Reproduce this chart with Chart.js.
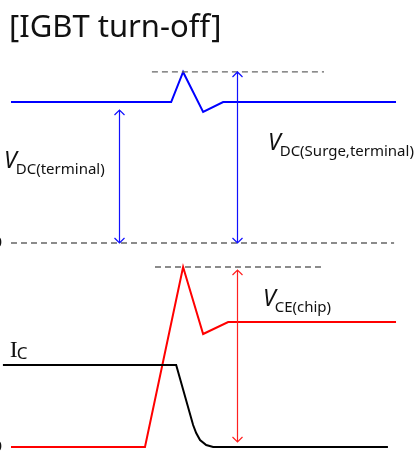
<!DOCTYPE html>
<html>
<head>
<meta charset="utf-8">
<script src="https://cdn.jsdelivr.net/npm/chart.js@4/dist/chart.umd.min.js"></script>
<style>
  html, body { margin: 0; padding: 0; background: #fff; }
  #wrap { position: relative; width: 417px; height: 459px; }
</style>
</head>
<body>
<div id="wrap"><canvas id="c"></canvas></div>
<script>
// ---- data (time in arbitrary units, voltages/current normalised) ----
const titleText = '[IGBT turn-off]';

const vdcTime   = [0, 41.6, 44.7, 49.9, 55.1, 100];
const vdcValues = [1, 1, 1.213, 0.929, 1, 1];

const vceTime   = [0, 34.8, 44.7, 49.9, 56.4, 100];
const vceValues = [0, 0, 1.44, 0.904, 1, 1];

const icTime    = [-2.1, 42.9, 47.3, 48.1, 49.1, 50.7, 52.5, 97.9];
const icValues  = [0.656, 0.656, 0.176, 0.112, 0.056, 0.016, 0, 0];

const surgeRefTime  = [36.6, 81.3];
const surgeRefLevel = 1.213;
const zeroRefTime   = [0, 99.5];
const chipRefTime   = [37.4, 81.0];
const chipRefLevel  = 1.44;

const arrowTimes  = [28.05, 58.7, 58.7];
const arrowFrom   = [0, 0, 0.04];
const arrowTo     = [0.943, 1.213, 1.416];
const arrowAxes   = ['yT', 'yT', 'yB'];
const arrowColors = ['#1010ff', '#1010ff', '#ff2020'];

const labelMain = ['V', 'V', 'V', 'I'];
const labelSub  = ['DC(terminal)', 'DC(Surge,terminal)', 'CE(chip)', 'C'];

// ---- helpers ----
const pts = (xs, ys) => xs.map((x, i) => ({ x: x, y: ys[i] }));
const flat = (xs, v) => xs.map(x => ({ x: x, y: v }));

const lineDs = (data, color, axis, width, dash) => ({
  data: data, yAxisID: axis, borderColor: color, borderWidth: width,
  borderDash: dash || [], showLine: true, pointRadius: 0, tension: 0,
  fill: false, borderCapStyle: 'butt', borderJoinStyle: 'miter'
});

const labelCfg = [
  { axis: 'yT', t: -1.8, v: 0.532, mainFont: 'italic 23px "Noto Sans"', subFont: '15px "Noto Sans"', dy: 6 },
  { axis: 'yT', t: 66.75, v: 0.66, mainFont: 'italic 23px "Noto Sans"', subFont: '15px "Noto Sans"', dy: 6 },
  { axis: 'yB', t: 65.45, v: 1.128, mainFont: 'italic 23px "Noto Sans"', subFont: '15px "Noto Sans"', dy: 6 },
  { axis: 'yB', t: -0.3, v: 0.72, mainFont: '24px "Liberation Serif"', subFont: '17px "Noto Sans"', dy: 2 }
];

const overlay = {
  id: 'overlay',
  afterDatasetsDraw(chart) {
    const ctx = chart.ctx;
    const xs = chart.scales.x;
    ctx.save();
    // arrows
    arrowTimes.forEach((t, i) => {
      const ys = chart.scales[arrowAxes[i]];
      const x = Math.round(xs.getPixelForValue(t)) + 0.5;
      const y0 = ys.getPixelForValue(arrowFrom[i]);
      const y1 = ys.getPixelForValue(arrowTo[i]);
      ctx.strokeStyle = arrowColors[i];
      ctx.lineWidth = 1.2;
      ctx.beginPath();
      ctx.moveTo(x, y0); ctx.lineTo(x, y1);
      const h = 5, w = 5;
      ctx.moveTo(x - w, y1 + h); ctx.lineTo(x, y1); ctx.lineTo(x + w, y1 + h);
      ctx.moveTo(x - w, y0 - h); ctx.lineTo(x, y0); ctx.lineTo(x + w, y0 - h);
      ctx.stroke();
    });
    // labels
    ctx.fillStyle = '#111';
    ctx.textBaseline = 'alphabetic';
    ctx.textAlign = 'left';
    labelCfg.forEach((c, i) => {
      const x = xs.getPixelForValue(c.t);
      const y = chart.scales[c.axis].getPixelForValue(c.v);
      ctx.font = c.mainFont;
      ctx.fillText(labelMain[i], x, y);
      const w = ctx.measureText(labelMain[i]).width;
      ctx.font = c.subFont;
      ctx.fillText(labelSub[i], x + w - 1, y + c.dy);
    });
    // cut-off zero labels at left edge
    ctx.font = '15px "Noto Sans"';
    ctx.textAlign = 'right';
    ctx.textBaseline = 'middle';
    ctx.fillText('0', xs.getPixelForValue(-2.3), chart.scales.yT.getPixelForValue(0));
    ctx.fillText('0', xs.getPixelForValue(-2.3), chart.scales.yB.getPixelForValue(0));
    // title
    ctx.textAlign = 'left';
    ctx.textBaseline = 'alphabetic';
    ctx.font = '31px "Noto Sans"';
    ctx.fillText(titleText, 9, 37);
    ctx.restore();
  }
};

new Chart(document.getElementById('c'), {
  type: 'scatter',
  data: {
    datasets: [
      lineDs(flat(surgeRefTime, surgeRefLevel), '#666', 'yT', 1.3, [6, 4]),
      lineDs(flat(zeroRefTime, 0), '#666', 'yT', 1.3, [6, 4]),
      lineDs(flat(chipRefTime, chipRefLevel), '#666', 'yB', 1.3, [6, 4]),
      lineDs(pts(vdcTime, vdcValues), '#0000ff', 'yT', 2),
      lineDs(pts(icTime, icValues), '#000000', 'yB', 2),
      lineDs(pts(vceTime, vceValues), '#ff0000', 'yB', 2)
    ]
  },
  options: {
    responsive: true,
    maintainAspectRatio: false,
    animation: false,
    devicePixelRatio: 1,
    layout: { padding: 0 },
    plugins: { legend: { display: false }, tooltip: { enabled: false }, title: { display: false } },
    scales: {
      x:  { type: 'linear', display: false, min: -2.857, max: 105.45 },
      yT: { type: 'linear', display: false, min: -1.5319, max: 1.7234 },
      yB: { type: 'linear', display: false, min: -0.096, max: 3.576 }
    }
  },
  plugins: [overlay]
});
</script>
</body>
</html>
